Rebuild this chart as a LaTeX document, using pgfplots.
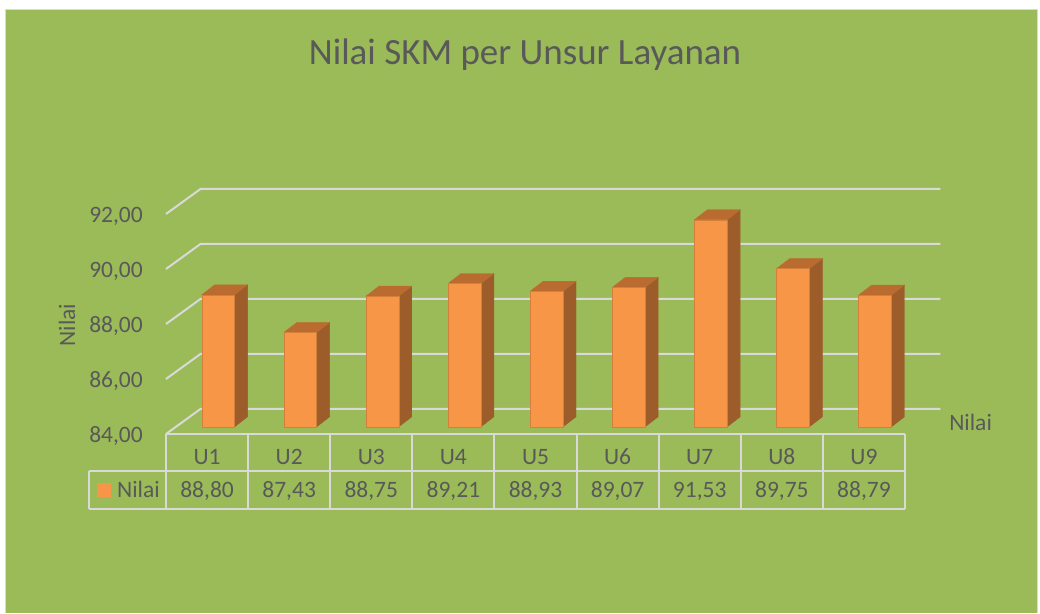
\documentclass[border=0pt]{standalone}
\usepackage{fontspec}
\setmainfont{Carlito}
\usepackage{pgfplots}
\pgfplotsset{compat=1.18}
\usepackage{pgfplotstable}
\definecolor{bg}{HTML}{9BBB59}
\definecolor{barfront}{HTML}{F79646}
\definecolor{barside}{HTML}{9D5D2B}
\definecolor{bartop}{HTML}{BA6C30}
\definecolor{gridc}{HTML}{D9D9D9}
\definecolor{txt}{HTML}{595959}

\pgfplotstableread{
x label v
1 U1 88.80
2 U2 87.43
3 U3 88.75
4 U4 89.21
5 U5 88.93
6 U6 89.07
7 U7 91.53
8 U8 89.75
9 U9 88.79
}\data

\begin{document}
\begin{tikzpicture}[x=1pt,y=1pt]
\fill[white] (0,0) rectangle (1040,613);
\fill[bg] (5,0) rectangle (1037,603);
\draw[gridc, line width=1pt] (5,0) -- (5,603) -- (1037,603) -- (1037,0);
\node[txt, font=\fontsize{37}{43}\selectfont, anchor=base, inner sep=0pt] at (525,548.7) {Nilai SKM per Unsur Layanan};
\begin{axis}[
  scale only axis, width=739pt, height=220pt,
  at={(166pt,179pt)}, anchor=south west,
  xmin=0.5, xmax=9.5, ymin=84, ymax=92,
  clip=false,
  axis line style={draw=none},
  major tick length=0pt,
  /pgf/number format/assume math mode=true,
  ytick={84,86,88,90,92},
  yticklabel style={/pgf/number format/.cd, fixed, fixed zerofill, precision=2, use comma, /tikz/.cd,
    anchor=base east, inner sep=0pt, xshift=-23pt, yshift=-8.3pt, text=txt, font=\fontsize{23.5}{28}\selectfont},
  xtick={1,...,9},
  xticklabels={U1,U2,U3,U4,U5,U6,U7,U8,U9},
  xticklabel style={anchor=base, inner sep=0pt, yshift=-30.3pt, text=txt, font=\fontsize{23.5}{28}\selectfont},
  ylabel={Nilai},
  ylabel style={at={(axis description cs:-0.134,0.495)}, anchor=center, text=txt, font=\fontsize{23.5}{28}\selectfont},
]
% back wall gridlines and left wall diagonals
\draw[gridc, line width=2pt] (axis cs:0.5,84) -- (axis cs:0.92,84.91) -- (axis cs:9.93,84.91);
\draw[gridc, line width=2pt] (axis cs:0.5,86) -- (axis cs:0.92,86.91) -- (axis cs:9.93,86.91);
\draw[gridc, line width=2pt] (axis cs:0.5,88) -- (axis cs:0.92,88.91) -- (axis cs:9.93,88.91);
\draw[gridc, line width=2pt] (axis cs:0.5,90) -- (axis cs:0.92,90.91) -- (axis cs:9.93,90.91);
\draw[gridc, line width=2pt] (axis cs:0.5,92) -- (axis cs:0.92,92.91) -- (axis cs:9.93,92.91);

% 3D bars: drawn as scatter marks whose shape depends on the value
\addplot[scatter, only marks, mark=*, mark size=0pt,
  visualization depends on={\thisrow{v} \as \val},
  scatter/@pre marker code/.code={%
    \begingroup
    \pgfmathsetmacro\hb{7.2-(\val-84)*27.5}%
    \pgfmathsetmacro\hbb{\hb+10}%
    \fill[barside] (27.5pt,\hb pt) -- (40.5pt,\hbb pt) -- (40.5pt,17.2pt) -- (27.5pt,7.2pt) -- cycle;
    \fill[bartop] (-5.3pt,7.2pt) -- (27.5pt,7.2pt) -- (40.5pt,17.2pt) -- (7.7pt,17.2pt) -- cycle;
    \fill[barfront] (-5.3pt,\hb pt) rectangle (27.5pt,7.2pt);
    \draw[barfront!85!black, line width=0.4pt] (-5.3pt,\hb pt) rectangle (27.5pt,7.2pt);
  },
  scatter/@post marker code/.code={\endgroup}
] table[x=x, y=v] \data;

% data table
\draw[gridc, line width=2pt] (axis cs:0.5,84) -- (axis cs:9.5,84);
\draw[gridc, line width=2pt] (axis cs:-0.438,82.655) -- (axis cs:9.5,82.655);
\draw[gridc, line width=2pt] (axis cs:-0.438,81.273) -- (axis cs:9.5,81.273);
\draw[gridc, line width=2pt] (axis cs:-0.438,82.655) -- (axis cs:-0.438,81.273);
\pgfplotsinvokeforeach{0.5,1.5,2.5,3.5,4.5,5.5,6.5,7.5,8.5,9.5}{
  \draw[gridc, line width=2pt] (axis cs:#1,84) -- (axis cs:#1,81.273);
}
\addplot[draw=none, mark=none,
  nodes near coords={\pgfmathprintnumber[fixed, fixed zerofill, precision=2, use comma]{\pgfplotspointmeta}},
  point meta=\thisrow{v},
  every node near coord/.style={anchor=base, inner sep=0pt, text=txt, font=\fontsize{23.5}{28}\selectfont}
] table[x=x, y expr=81.698] \data;

% legend key in the table
\fill[barfront] (axis cs:-0.34,82.218) rectangle (axis cs:-0.17,81.709);
\node[anchor=base west, inner sep=0pt, text=txt, font=\fontsize{23.5}{28}\selectfont] at (axis cs:-0.097,81.698) {Nilai};
% series (depth) axis label
\node[anchor=base west, inner sep=0pt, text=txt, font=\fontsize{23.5}{28}\selectfont] at (axis cs:10.037,84.145) {Nilai};
\end{axis}
\end{tikzpicture}
\end{document}
